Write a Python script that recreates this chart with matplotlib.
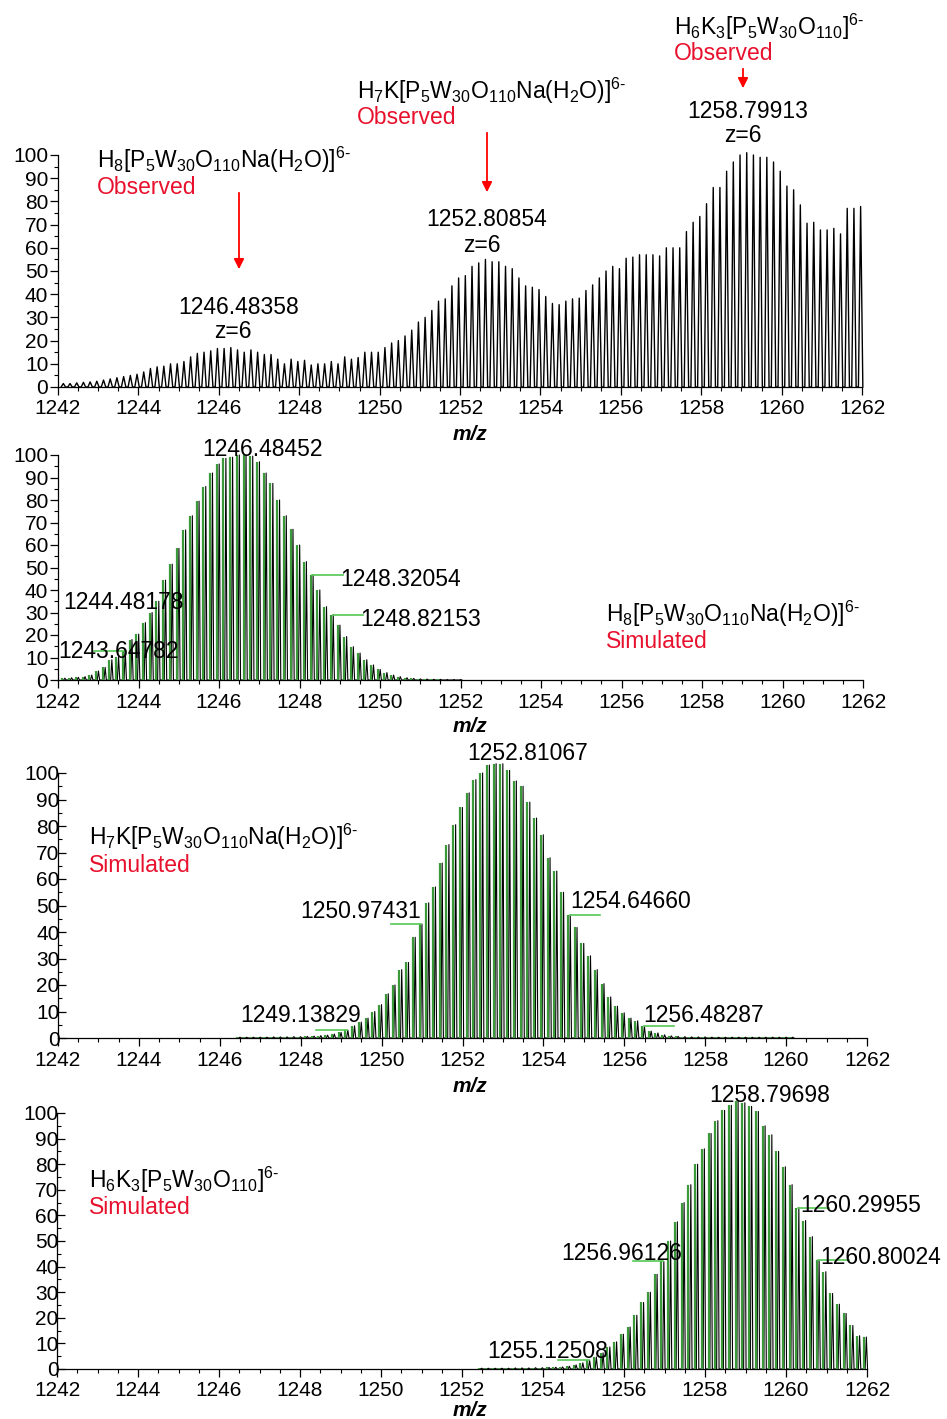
import numpy as np
import matplotlib
matplotlib.use("Agg")
import matplotlib.pyplot as plt
from matplotlib.ticker import MultipleLocator

# ---------------- data ----------------
Z = 6  # charge state -> isotope spacing 1/6 m/z

# Observed spectrum: first isotope peak and relative heights (%)
OBS_FIRST = 1242.1325
OBS_HEIGHTS = [1.5, 1.5, 1.8, 2, 2.2, 2.5, 3, 3.5, 4, 4.5, 5, 5.5, 6.5,
               8, 8.7, 9, 10, 10, 11, 13, 14.5, 15, 15.6,
               16.6, 16.6, 17, 16, 15, 16, 15, 14, 14, 12,
               10, 12, 11, 11.5, 9.5, 10, 10, 11, 10, 13,
               12, 12.7, 15, 15, 15, 17, 19, 20, 22, 24.5,
               28, 30, 33, 37, 38, 43.6, 47, 48, 52, 53.5,
               55, 54, 54, 52, 51, 47, 43.6, 43, 42, 39,
               36, 35.5, 37, 38, 38.3, 41.6, 44, 47, 50, 52,
               51, 55.5, 56, 57, 57, 57, 56.5, 60, 60, 60,
               67, 71, 73.5, 79, 86, 86, 93, 97, 100, 101,
               100, 99, 99, 97, 93, 86.6, 85, 78.5, 70.6, 71,
               67.7, 67.7, 68.4, 66, 77, 77, 77.8]

# Simulated H8[P5W30O110Na(H2O)]6-
SIM1_MONO = 1246.48452
SIM1_K0 = -26
SIM1_HEIGHTS = [0.8, 1.0, 1.2, 1.5, 2.2, 4, 5.6, 9, 10.4, 13,
                18, 20.4, 25.5, 30, 35, 44.4, 51.5, 58.5, 66.7, 73,
                79.5, 86, 92, 96, 98.5, 99, 100, 100, 99.5, 97,
                92, 87.4, 80, 73, 67, 60, 52.6, 46.7, 40, 32.6,
                29, 24.4, 19.3, 14.8, 12, 9, 6.7, 4.7, 3.3, 2.2,
                1.5, 1.0, 0.7, 0.5, 0.4, 0.3, 0.3, 0.2, 0.2, 0.2]

# Simulated H7K[P5W30O110Na(H2O)]6-
SIM2_MONO = 1252.81067
SIM2_K0 = -38
SIM2_HEIGHTS = [0.3, 0.3, 0.3, 0.3, 0.3, 0.4, 0.4, 0.4, 0.5, 0.5, 0.6, 0.7,
                0.9, 1.1, 1.5, 2.1, 3, 4.6, 6, 7.5, 10, 12.6,
                16.7, 20, 25.8, 28.5, 38, 43, 51, 57, 66, 73,
                80.5, 87, 92.5, 97.5, 100, 103, 103.5, 103.5, 101, 97,
                95, 89, 83, 76.7, 68, 63, 55, 46.4, 41.7, 35.7,
                31, 25.8, 20.5, 15.5, 12, 9.5, 7.5, 6.5, 4.4, 2.6,
                1.9, 1.2, 0.8, 0.6, 0.5,
                0.4, 0.4, 0.4, 0.3, 0.3, 0.3, 0.3, 0.3, 0.3, 0.3,
                0.3, 0.3, 0.3, 0.3, 0.3, 0.3]

# Simulated H6K3[P5W30O110]6-
SIM3_MONO = 1258.79698
SIM3_K0 = -38
SIM3_HEIGHTS = [0.3, 0.3, 0.3, 0.3, 0.3, 0.4, 0.4, 0.4, 0.5, 0.5, 0.6, 0.7,
                0.8, 1.1, 1.6, 2.4, 3.4, 4.7, 6.3, 8.6, 10.6, 13.6,
                16.4, 21, 26, 30, 37, 42, 50, 57.5, 65, 72,
                80, 86, 92, 97, 101, 103, 104.5, 104, 102.6, 100.6,
                95, 91.5, 85, 79, 72, 63, 58, 51.7, 42.5, 38,
                29.5, 25.3, 21.7, 17, 13, 12.5]

# Labelled simulated peaks: (m/z, side of leader)
SIM1_LABELS = [(1248.32054, 1), (1248.82153, 1), (1243.64782, -1)]
SIM2_LABELS = [(1250.97431, -1), (1254.64660, 1), (1249.13829, -1), (1256.48287, 1)]
SIM3_LABELS = [(1260.29955, 1), (1260.80024, 1), (1256.96126, -1), (1255.12508, -1)]

X_TICKS = list(range(1242, 1263, 2))
Y_TICKS = list(range(0, 101, 10))

# ---------------- style ----------------
W, H = 947, 1419
plt.rcParams["font.family"] = ["Liberation Sans", "DejaVu Sans"]
plt.rcParams["mathtext.fontset"] = "custom"
plt.rcParams["mathtext.rm"] = "Liberation Sans"
plt.rcParams["mathtext.it"] = "Liberation Sans:italic"
plt.rcParams["mathtext.bf"] = "Liberation Sans:bold"
TICKFONT = ["Liberation Sans Narrow", "Liberation Sans", "DejaVu Sans"]
RED = "#e8112d"
GREEN = "#3a9a3a"
LEADER = "#55c855"
FS = 16.5

fig = plt.figure(figsize=(W / 100, H / 100), dpi=100)


def fx(x):
    return x / W


def fy(y):
    return 1 - y / H


def make_axes(left, right, y0, y100, ydir):
    ax = fig.add_axes([fx(left), fy(y0), (right - left) / W, (y0 - y100) / H])
    ax.set_xlim(1242, 1262)
    ax.set_ylim(0, 100)
    for s in ("top", "right"):
        ax.spines[s].set_visible(False)
    for s in ("left", "bottom"):
        ax.spines[s].set_linewidth(0.9)
    ax.set_xticks(X_TICKS)
    ax.set_yticks(Y_TICKS)
    ax.xaxis.set_minor_locator(MultipleLocator(0.5))
    ax.yaxis.set_minor_locator(MultipleLocator(5))
    ax.tick_params(axis="x", which="major", direction="out", length=6, width=0.9, pad=3)
    ax.tick_params(axis="x", which="minor", direction="out", length=3, width=0.8)
    if ydir == "out":
        ax.tick_params(axis="y", which="major", direction="out", length=6, width=0.9, pad=1)
        ax.tick_params(axis="y", which="minor", direction="out", length=3, width=0.8)
    else:
        ax.tick_params(axis="y", which="major", direction="in", length=6, width=0.9, pad=-1)
        ax.tick_params(axis="y", which="minor", direction="in", length=3, width=0.8)
    for lab in ax.get_xticklabels() + ax.get_yticklabels():
        lab.set_fontfamily(TICKFONT)
        lab.set_fontsize(15)
    ax.patch.set_alpha(0)
    return ax


def profile(ax, centers, heights, hw, color, lw):
    c = np.asarray(centers)
    h = np.asarray(heights)
    z = np.zeros_like(h)
    xs = np.column_stack([c - hw, c, c + hw]).ravel()
    ys = np.column_stack([z, h, z]).ravel()
    ax.plot(xs, ys, color=color, lw=lw, clip_on=False, zorder=3)


def simulated(ax, mono, k0, heights):
    h = np.asarray(heights, dtype=float)
    ks = k0 + np.arange(len(h))
    c = mono + ks / Z
    profile(ax, c + 0.02, h, 0.03, "black", 0.8)
    ax.vlines(c - 0.04, 0, h, color=GREEN, lw=1.6, clip_on=False, zorder=4)
    return c, h


def leaders(ax, mono, k0, heights, labels):
    for mz, side in labels:
        k = int(round((mz - mono) * Z)) - k0
        hh = heights[k]
        x0 = mz
        x1 = mz + side * 0.75
        ax.plot([x0, x1], [hh, hh], color=LEADER, lw=1.2, clip_on=False, zorder=5)


def ftext(x, y, s, ha="left", color="black", size=FS, **kw):
    fig.text(fx(x), fy(y), s, ha=ha, va="center", color=color, fontsize=size, **kw)


def arrow(x, y1, y2):
    fig.add_artist(matplotlib.patches.FancyArrowPatch(
        (fx(x), fy(y1)), (fx(x), fy(y2)), transform=fig.transFigure,
        arrowstyle="-|>", mutation_scale=15, color="red", lw=1.3))


HY = "\u2010"
F1 = r"H$_{8}$[P$_{5}$W$_{30}$O$_{110}$Na(H$_{2}$O)]$^{6" + HY + "}$"
F2 = r"H$_{7}$K[P$_{5}$W$_{30}$O$_{110}$Na(H$_{2}$O)]$^{6" + HY + "}$"
F3 = r"H$_{6}$K$_{3}$[P$_{5}$W$_{30}$O$_{110}$]$^{6" + HY + "}$"

# ---------------- panel 1 : observed ----------------
ax1 = make_axes(58, 862, 387, 155, "out")
obs_c = OBS_FIRST + np.arange(len(OBS_HEIGHTS)) / Z
profile(ax1, obs_c, OBS_HEIGHTS, 0.055, "black", 1.0)

ftext(97, 160, F1)
ftext(97, 188, "Observed", color=RED)
arrow(239, 190, 272)
ftext(239, 308, "1246.48358", ha="center")
ftext(233, 331, "z=6", ha="center")

ftext(357, 91, F2)
ftext(357, 118, "Observed", color=RED)
arrow(487, 130, 195)
ftext(487, 219, "1252.80854", ha="center")
ftext(482, 246, "z=6", ha="center")

ftext(674, 27, F3)
ftext(674, 54, "Observed", color=RED)
arrow(743, 66, 91)
ftext(748, 111, "1258.79913", ha="center")
ftext(743, 135, "z=6", ha="center")

# ---------------- panel 2 ----------------
ax2 = make_axes(58, 863, 680, 455, "out")
simulated(ax2, SIM1_MONO, SIM1_K0, SIM1_HEIGHTS)
leaders(ax2, SIM1_MONO, SIM1_K0, SIM1_HEIGHTS, SIM1_LABELS)
ftext(263, 450, "1246.48452", ha="center")
ftext(340, 580, "1248.32054")
ftext(360, 619, "1248.82153")
ftext(63, 603, "1244.48178")
ftext(58, 652, "1243.64782")
ftext(606, 614, F1)
ftext(606, 642, "Simulated", color=RED)

# ---------------- panel 3 ----------------
ax3 = make_axes(58, 867, 1038, 773, "in")
simulated(ax3, SIM2_MONO, SIM2_K0, SIM2_HEIGHTS)
leaders(ax3, SIM2_MONO, SIM2_K0, SIM2_HEIGHTS, SIM2_LABELS)
ftext(528, 754, "1252.81067", ha="center")
ftext(300, 912, "1250.97431")
ftext(570, 901, "1254.64660")
ftext(240, 1016, "1249.13829")
ftext(643, 1015, "1256.48287")
ftext(89, 837, F2)
ftext(89, 865, "Simulated", color=RED)

# ---------------- panel 4 ----------------
ax4 = make_axes(57, 867, 1369, 1113, "in")
simulated(ax4, SIM3_MONO, SIM3_K0, SIM3_HEIGHTS)
leaders(ax4, SIM3_MONO, SIM3_K0, SIM3_HEIGHTS, SIM3_LABELS)
ftext(770, 1095, "1258.79698", ha="center")
ftext(800, 1205, "1260.29955")
ftext(561, 1253, "1256.96126")
ftext(820, 1257, "1260.80024")
ftext(487, 1352, "1255.12508")
ftext(89, 1180, F3)
ftext(89, 1207, "Simulated", color=RED)

# m/z axis titles
for yy in (434, 727, 1087, 1410):
    ftext(470, yy, "m/z", ha="center", size=15, fontweight="bold", fontstyle="italic")

fig.savefig("out.png", dpi=100)
